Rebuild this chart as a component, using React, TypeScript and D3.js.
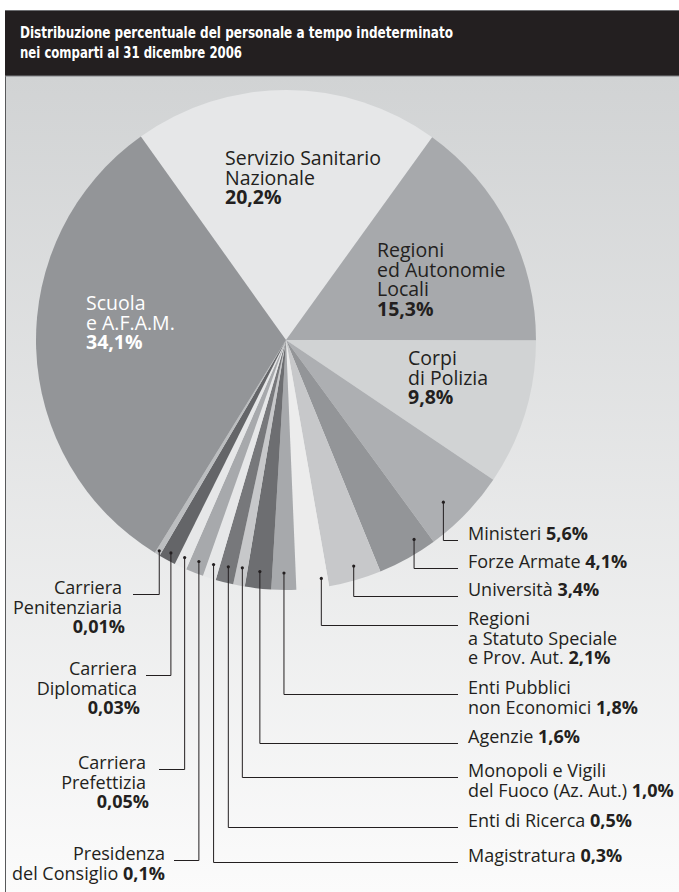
import * as d3 from 'd3';

// comparti, in clockwise order starting from the top slice
const categories = [
  'Servizio Sanitario Nazionale',
  'Regioni ed Autonomie Locali',
  'Corpi di Polizia',
  'Ministeri',
  'Forze Armate',
  'Università',
  'Regioni a Statuto Speciale e Prov. Aut.',
  'Enti Pubblici non Economici',
  'Agenzie',
  'Monopoli e Vigili del Fuoco (Az. Aut.)',
  'Enti di Ricerca',
  'Magistratura',
  'Presidenza del Consiglio',
  'Carriera Prefettizia',
  'Carriera Diplomatica',
  'Carriera Penitenziaria',
  'Scuola e A.F.A.M.',
];

const labelLines = [
  ['Servizio Sanitario', 'Nazionale'],
  ['Regioni', 'ed Autonomie', 'Locali'],
  ['Corpi', 'di Polizia'],
  ['Ministeri'],
  ['Forze Armate'],
  ['Università'],
  ['Regioni', 'a Statuto Speciale', 'e Prov. Aut.'],
  ['Enti Pubblici', 'non Economici'],
  ['Agenzie'],
  ['Monopoli e Vigili', 'del Fuoco (Az. Aut.)'],
  ['Enti di Ricerca'],
  ['Magistratura'],
  ['Presidenza', 'del Consiglio'],
  ['Carriera', 'Prefettizia'],
  ['Carriera', 'Diplomatica'],
  ['Carriera', 'Penitenziaria'],
  ['Scuola', 'e A.F.A.M.'],
];

const percentLabels = [
  '20,2%', '15,3%', '9,8%', '5,6%', '4,1%', '3,4%', '2,1%', '1,8%', '1,6%',
  '1,0%', '0,5%', '0,3%', '0,1%', '0,05%', '0,03%', '0,01%', '34,1%',
];

// share of the circle as drawn (small sectors are widened in the original)
const drawnShare = [
  19.8, 15.1, 9.4, 5.5, 3.9, 3.4, 2.1, 1.6, 1.7,
  0.75, 1.15, 0.85, 1.15, 0.8, 1.1, 0.35, 31.35,
];

const sliceColors = [
  '#e6e7e8', '#a7a9ac', '#d1d3d4', '#adafb2', '#939598', '#c7c8ca', '#ececec', '#a7a9ac', '#6d6e71',
  '#c7c8ca', '#77787b', '#e6e7e8', '#a7a9ac', '#e6e7e8', '#646568', '#bcbec0', '#939598',
];

const WIDTH = 679;
const HEIGHT = 892;
const CX = 286;
const CY = 340;
const R = 250;
const DOT_R = 236;
const START = -35.5 * (Math.PI / 180);

const FONT = "'Open Sans', 'DejaVu Sans', sans-serif";
const INK = '#231f20';

type Place = {
  mode: 'inside' | 'right' | 'left';
  x: number;
  y: number;
  fill?: string;
  pctOwnLine?: boolean;
  end?: number;
  dotT?: number; // where the dot sits across the sector (0..1)
  dotR?: number;
};

const places: Place[] = [
  { mode: 'inside', x: 225, y: 165, pctOwnLine: true },
  { mode: 'inside', x: 377, y: 257, pctOwnLine: true },
  { mode: 'inside', x: 408, y: 365, pctOwnLine: true },
  { mode: 'right', x: 468, y: 540, end: 458, dotT: 0.6, dotR: 226 },
  { mode: 'right', x: 468, y: 568, end: 458, dotT: 0.25, dotR: 237 },
  { mode: 'right', x: 468, y: 596, end: 458, dotT: 0.45 },
  { mode: 'right', x: 468, y: 625, end: 458, dotT: 0.2, dotR: 241 },
  { mode: 'right', x: 468, y: 694, end: 458, dotR: 233 },
  { mode: 'right', x: 468, y: 743, end: 458, dotR: 233 },
  { mode: 'right', x: 468, y: 777, end: 458, dotR: 232 },
  { mode: 'right', x: 468, y: 827, end: 458, dotR: 234 },
  { mode: 'right', x: 468, y: 862, end: 458 },
  { mode: 'left', x: 165, y: 860, end: 174, dotR: 238 },
  { mode: 'left', x: 146, y: 769, end: 159, pctOwnLine: true, dotR: 240 },
  { mode: 'left', x: 137, y: 675, end: 146, pctOwnLine: true, dotR: 242 },
  { mode: 'left', x: 122, y: 594, end: 133, pctOwnLine: true, dotR: 246 },
  { mode: 'inside', x: 86, y: 310, fill: '#ffffff', pctOwnLine: true },
];

export default function App() {
  const pie = d3
    .pie<number>()
    .sort(null)
    .value((d) => d)
    .startAngle(START)
    .endAngle(START + 2 * Math.PI);
  const arcs = pie(drawnShare);
  const arc = d3.arc<d3.PieArcDatum<number>>().innerRadius(0).outerRadius(R);

  return (
    <div style={{ position: 'absolute', left: 0, top: 0 }}>
      <svg width={WIDTH} height={HEIGHT} viewBox={`0 0 ${WIDTH} ${HEIGHT}`} style={{ display: 'block' }}>
        <defs>
          <linearGradient id="bg" x1="0" x2="0" y1="0" y2="1">
            <stop offset="0%" stopColor="#d1d3d4" />
            <stop offset="100%" stopColor="#fbfbfb" />
          </linearGradient>
        </defs>
        <rect x={0} y={0} width={WIDTH} height={HEIGHT} fill="#ffffff" />
        <rect x={5} y={76} width={WIDTH - 5} height={HEIGHT - 76} fill="url(#bg)" />
        <line x1={5.5} x2={5.5} y1={10} y2={HEIGHT} stroke="#58595b" strokeWidth={1} />
        <rect x={5} y={10} width={WIDTH - 5} height={66} fill={INK} />
        <line x1={5} x2={WIDTH} y1={10.5} y2={10.5} stroke="#6d6e71" />
        <line x1={5} x2={WIDTH} y1={76} y2={76} stroke="#808285" />
        <text fill="#ffffff" fontFamily="'Liberation Sans Narrow', 'DejaVu Sans Condensed', sans-serif" fontWeight={700} fontSize={15.5}>
          <tspan x={20} y={38} textLength={433} lengthAdjust="spacingAndGlyphs">
            Distribuzione percentuale del personale a tempo indeterminato
          </tspan>
          <tspan x={20} y={58} textLength={222} lengthAdjust="spacingAndGlyphs">
            nei comparti al 31 dicembre 2006
          </tspan>
        </text>

        <g transform={`translate(${CX},${CY})`}>
          {arcs.map((a, i) => (
            <path key={categories[i]} d={arc(a) ?? ''} fill={sliceColors[i]} />
          ))}
        </g>

        {arcs.map((a, i) => {
          const p = places[i];
          if (p.mode === 'inside') return null;
          const t = p.dotT ?? 0.5;
          const ang = a.startAngle + (a.endAngle - a.startAngle) * t;
          const rr = p.dotR ?? DOT_R;
          const dx = CX + rr * Math.sin(ang);
          const dy = CY - rr * Math.cos(ang);
          const ly = p.y + 0.5;
          return (
            <g key={`lead-${i}`}>
              <path d={`M${dx},${dy}V${ly}H${p.end}`} fill="none" stroke={INK} strokeWidth={1} />
              <circle cx={dx} cy={dy} r={1.6} fill={INK} />
            </g>
          );
        })}

        {places.map((p, i) => {
          const lines = labelLines[i];
          const anchor = p.mode === 'left' ? 'end' : 'start';
          const fill = p.fill ?? INK;
          const inside = p.mode === 'inside';
          const size = inside ? 19.5 : 18;
          const lh = inside ? 19.5 : 19.5;
          return (
            <text key={`lab-${i}`} fontFamily={FONT} fontSize={size} fill={fill} textAnchor={anchor}>
              {lines.map((ln, j) => {
                const last = j === lines.length - 1;
                return (
                  <tspan key={j} x={p.x} y={p.y + j * lh}>
                    {ln}
                    {last && !p.pctOwnLine ? ' ' : ''}
                    {last && !p.pctOwnLine ? <tspan fontWeight={700}>{percentLabels[i]}</tspan> : null}
                  </tspan>
                );
              })}
              {p.pctOwnLine ? (
                <tspan
                  x={p.mode === 'left' ? p.x + 3 : p.x}
                  y={p.y + lines.length * lh}
                  fontWeight={700}
                >
                  {percentLabels[i]}
                </tspan>
              ) : null}
            </text>
          );
        })}
      </svg>
    </div>
  );
}
